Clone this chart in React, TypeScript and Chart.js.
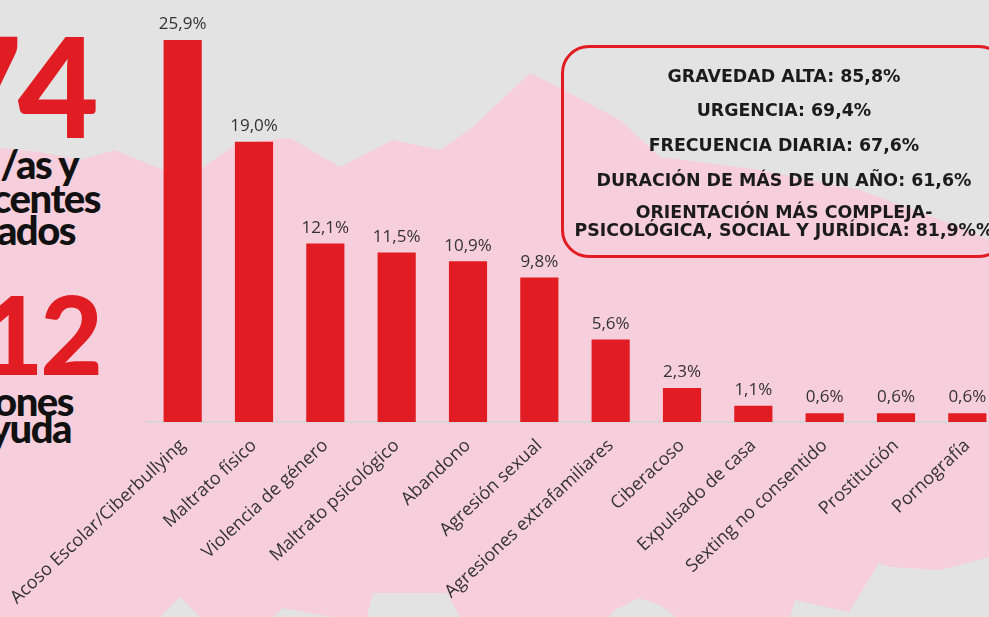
import React, { useEffect, useRef } from 'react';
import { Chart, registerables } from 'chart.js';

Chart.register(...registerables);

const categories = [
  'Acoso Escolar/Ciberbullying',
  'Maltrato físico',
  'Violencia de género',
  'Maltrato psicológico',
  'Abandono',
  'Agresión sexual',
  'Agresiones extrafamiliares',
  'Ciberacoso',
  'Expulsado de casa',
  'Sexting no consentido',
  'Prostitución',
  'Pornografía',
];
const values = [25.9, 19.0, 12.1, 11.5, 10.9, 9.8, 5.6, 2.3, 1.1, 0.6, 0.6, 0.6];
const valueLabels = values.map((v) => v.toFixed(1).replace('.', ',') + '%');

const boxLines = [
  'GRAVEDAD ALTA: 85,8%',
  'URGENCIA: 69,4%',
  'FRECUENCIA DIARIA: 67,6%',
  'DURACIÓN DE MÁS DE UN AÑO: 61,6%',
  'ORIENTACIÓN MÁS COMPLEJA-',
  'PSICOLÓGICA, SOCIAL Y JURÍDICA: 81,9%%',
];
const boxLineCenters = [31, 65, 100, 135, 167, 185];

const RED = '#e11c23';
const PINK = '#f7cedb';
const GRAY = '#e3e3e3';

const pinkShape =
  '0,148 40,152 80,160 115,150 163,170 200,170 237,143 290,138 340,167 393,140 440,150 473,127 530,73 560,88 620,120 660,157 760,170 860,190 960,227 989,240 989,557 940,570 890,567 879,563 849,612 795,600 790,617 676,617 660,605 639,598 615,610 609,617 460,617 447,593 373,593 367,617 333,617 283,608 273,617 200,617 180,597 160,617 0,617';

const valueLabelPlugin = {
  id: 'valueLabels',
  afterDatasetsDraw(chart: any) {
    const { ctx } = chart;
    const meta = chart.getDatasetMeta(0);
    ctx.save();
    ctx.font = '17px "Open Sans"';
    ctx.fillStyle = '#333333';
    ctx.textAlign = 'center';
    ctx.textBaseline = 'bottom';
    meta.data.forEach((bar: any, i: number) => {
      ctx.fillText(valueLabels[i], bar.x, bar.y - 7);
    });
    ctx.restore();
  },
};

const leftText: { text: string; size: number; top: number; right: number; color: string; ls: number }[] = [
  { text: '74', size: 140, top: 14, right: 894, color: RED, ls: -4 },
  { text: '/as y', size: 40, top: 144, right: 911, color: '#111', ls: -1.5 },
  { text: 'centes', size: 40, top: 178, right: 889, color: '#111', ls: -1.5 },
  { text: 'ados', size: 40, top: 210, right: 914, color: '#111', ls: -1.5 },
  { text: '12', size: 108, top: 279, right: 889, color: RED, ls: -3 },
  { text: 'ones', size: 40, top: 381, right: 916, color: '#111', ls: -1.5 },
  { text: 'yuda', size: 40, top: 408, right: 918, color: '#111', ls: -1.5 },
];

export default function App() {
  const canvasRef = useRef<HTMLCanvasElement | null>(null);

  useEffect(() => {
    if (!canvasRef.current) return;
    const chart = new Chart(canvasRef.current, {
      type: 'bar',
      data: {
        labels: categories,
        datasets: [
          {
            data: values,
            backgroundColor: RED,
            borderWidth: 0,
            barPercentage: 0.535,
            categoryPercentage: 1,
          },
        ],
      },
      options: {
        responsive: false,
        animation: false,
        layout: { padding: { left: 147, right: 7, top: 9, bottom: 0 } },
        plugins: { legend: { display: false }, tooltip: { enabled: false } },
        scales: {
          x: {
            grid: { display: false },
            border: { display: true, color: '#d6d6d6', width: 2 },
            ticks: {
              color: '#333333',
              font: { family: '"Open Sans"', size: 18 },
              maxRotation: 43,
              minRotation: 43,
              autoSkip: false,
              padding: 5,
            },
            afterFit: (scale: any) => {
              scale.height = 195;
            },
          },
          y: { display: false, min: 0, max: 28 },
        },
      },
      plugins: [valueLabelPlugin],
    });
    return () => chart.destroy();
  }, []);

  return (
    <div
      style={{
        position: 'fixed',
        left: 0,
        top: 0,
        width: 989,
        height: 617,
        overflow: 'hidden',
        background: GRAY,
      }}
    >
      <svg width={989} height={617} style={{ position: 'absolute', left: 0, top: 0 }}>
        <polygon points={pinkShape} fill={PINK} />
      </svg>
      {leftText.map((t, i) => (
        <div
          key={i}
          style={{
            position: 'absolute',
            top: t.top,
            right: t.right,
            fontFamily: 'Lato, sans-serif',
            fontWeight: 900,
            fontSize: t.size,
            lineHeight: `${t.size}px`,
            letterSpacing: t.ls,
            color: t.color,
            whiteSpace: 'nowrap',
          }}
        >
          {t.text}
        </div>
      ))}
      <div style={{ position: 'absolute', left: 0, top: 0, width: 1010, height: 617 }}>
        <canvas ref={canvasRef} width={1010} height={617} style={{ display: 'block' }} />
      </div>
      <div
        style={{
          position: 'absolute',
          left: 561,
          top: 45,
          width: 446,
          height: 213,
          border: `3px solid ${RED}`,
          borderRadius: 28,
          boxSizing: 'border-box',
        }}
      >
        {boxLines.map((line, i) => (
          <div
            key={i}
            style={{
              position: 'absolute',
              left: -3,
              width: 446,
              top: boxLineCenters[i] - 3 - 10,
              height: 20,
              lineHeight: '20px',
              textAlign: 'center',
              fontFamily: '"DejaVu Sans", sans-serif',
              fontWeight: 700,
              fontSize: 17.4,
              color: '#1b1b1b',
              whiteSpace: 'nowrap',
            }}
          >
            {line}
          </div>
        ))}
      </div>
    </div>
  );
}
